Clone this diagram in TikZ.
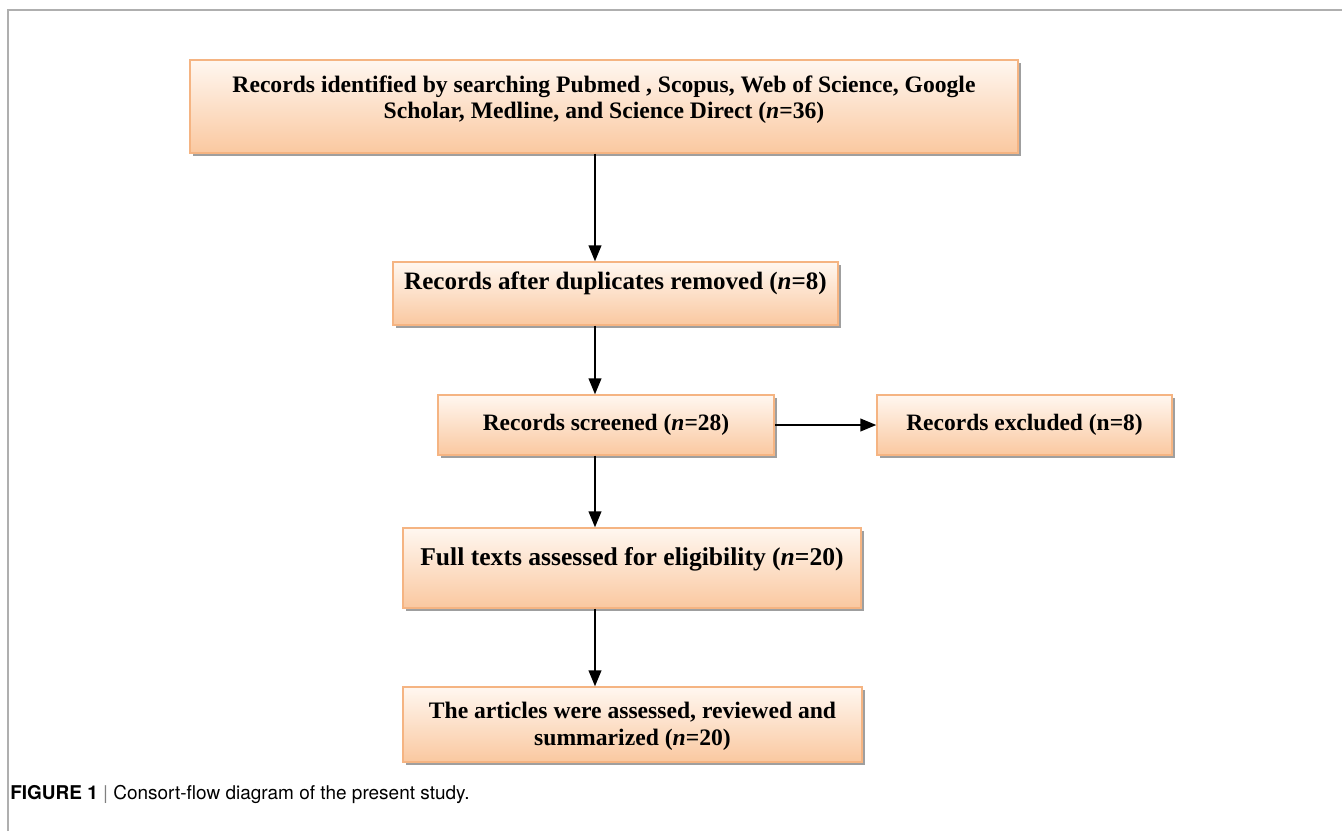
\documentclass[tikz,border=0pt]{standalone}
\usepackage{fontspec}
\setmainfont{Liberation Serif}
\newfontfamily\capfont{TeX Gyre Heros}
\usetikzlibrary{shadows,arrows.meta}

\definecolor{boxfill}{RGB}{250,200,160}
\definecolor{boxtop}{RGB}{255,247,240}
\definecolor{boxline}{RGB}{245,180,130}
\definecolor{framegray}{RGB}{175,175,175}

\tikzstyle{flowbox} = [draw=boxline, line width=1pt, top color=boxtop, bottom color=boxfill,
	drop shadow={shadow xshift=0.07cm, shadow yshift=-0.07cm, fill=gray!75, opacity=1},
	font=\fontsize{16.8}{18.2}\selectfont\bfseries, inner sep=0pt]
\tikzstyle{arr} = [-{Triangle[length=0.4cm,width=0.32cm]}, line width=1.2pt]

\begin{document}
\begin{tikzpicture}[x=0.025cm, y=-0.025cm]
	\useasboundingbox (0,0) rectangle (1342,831);
	% frame
	\draw[framegray, line width=1pt] (8,831) -- (8,10) -- (1342,10);
	
	\node[flowbox, minimum width=20.7cm, minimum height=2.325cm, align=center,
		text height=0.6cm, text depth=0pt] (b1) at (604,106.5)
		{Records identified by searching Pubmed , Scopus, Web of Science, Google\\
		 Scholar, Medline, and Science Direct (\textit{n}=36)};
	\node[flowbox, minimum width=11.125cm, minimum height=1.575cm, font=\fontsize{17.8}{20}\selectfont\bfseries,
		text height=0pt, text depth=0.225cm] (b2) at (615.5,293.5)
		{Records after duplicates removed (\textit{n}=8)};
	\node[flowbox, minimum width=8.4cm, minimum height=1.5cm, font=\fontsize{16.7}{18}\selectfont\bfseries] (b3) at (606,425)
		{Records screened (\textit{n}=28)};
	\node[flowbox, minimum width=7.375cm, minimum height=1.5cm, font=\fontsize{16.7}{18}\selectfont\bfseries] (b4) at (1024.5,425)
		{Records excluded (n=8)};
	\node[flowbox, minimum width=11.45cm, minimum height=2cm, font=\fontsize{18.2}{20}\selectfont\bfseries,
		text height=0pt, text depth=0.15cm] (b5) at (632,568)
		{Full texts assessed for eligibility (\textit{n}=20)};
	\node[flowbox, minimum width=11.475cm, minimum height=1.875cm, align=center,
		font=\fontsize{16.8}{19.2}\selectfont\bfseries, text height=1.025cm, text depth=0pt] (b6) at (632.5,724.5)
		{The articles were assessed, reviewed and\\ summarized (\textit{n}=20)};
	
	\coordinate (ax) at (595,0);
	\draw[arr] (b1.south -| ax) -- (b2.north -| ax);
	\draw[arr] (b2.south -| ax) -- (b3.north -| ax);
	\draw[arr] (b3.east) -- (b4.west);
	\draw[arr] (b3.south -| ax) -- (b5.north -| ax);
	\draw[arr] (b5.south -| ax) -- (b6.north -| ax);
	
	\node[anchor=west, inner sep=0pt, font=\fontsize{13.5}{16}\capfont] (cap) at (10,794)
		{\textbf{FIGURE 1} \textcolor{gray}{|} Consort-flow diagram of the present study.};
\end{tikzpicture}
\end{document}
